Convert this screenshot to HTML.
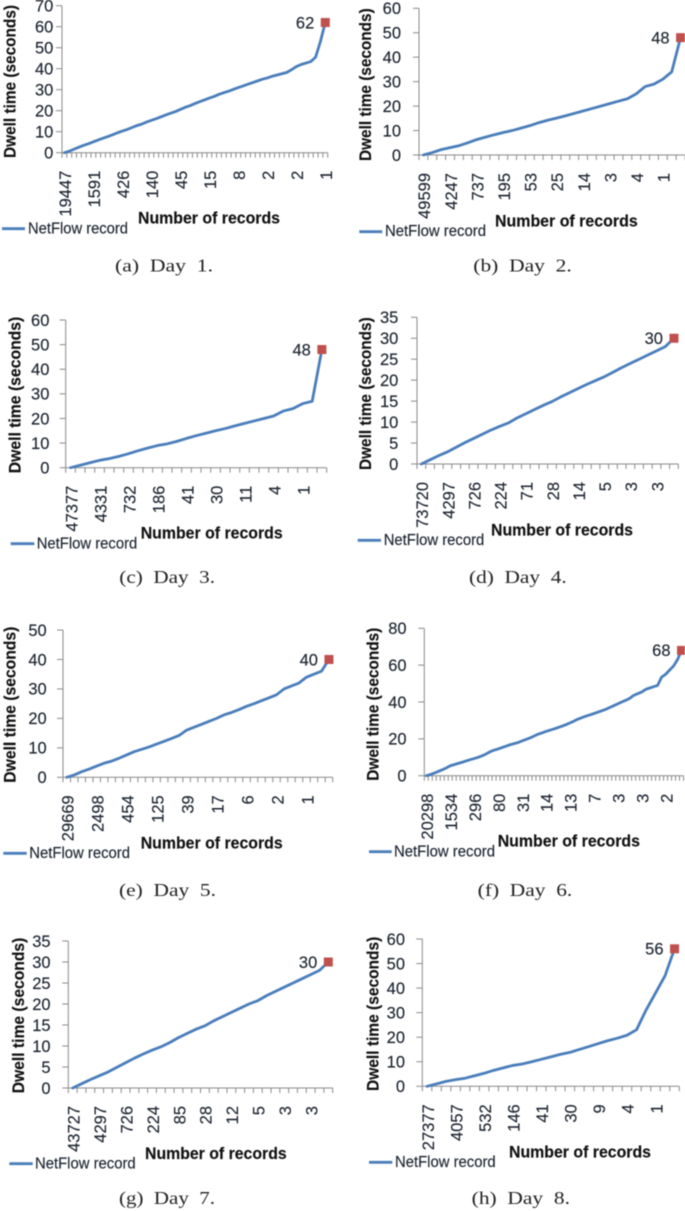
<!DOCTYPE html>
<html lang="en">
<head>
<meta charset="utf-8">
<title>Dwell time per day</title>
<style>
html,body{margin:0;padding:0;background:#fff;}
body{width:685px;height:1211px;overflow:hidden;}
svg{display:block;filter:blur(0.4px);}
text{font-family:"Liberation Sans",sans-serif;fill:#1c2430;stroke:#1c2430;stroke-width:0.15px;}
.cap{font-family:"Liberation Serif",serif;fill:#222;stroke:none;white-space:pre;}
</style>
</head>
<body>
<svg id="figure" xmlns="http://www.w3.org/2000/svg" width="685" height="1211" viewBox="0 0 685 1211"></svg>
<script>
// ---- data ----
const dayNames = ["Day 1", "Day 2", "Day 3", "Day 4", "Day 5", "Day 6", "Day 7", "Day 8"];
const seriesName = "NetFlow record";

const yTicksA = [0,10,20,30,40,50,60,70];
const labelsA = ["19447","1591","426","140","45","15","8","2","2","1"];
const valuesA = [0,0.7,1.7,2.6,3.5,4.3,5.2,6.1,6.9,7.7,8.6,9.5,10.3,11.1,12,12.9,13.6,14.6,15.4,16.2,17.1,18,18.8,19.6,20.6,21.6,22.4,23.4,24.3,25.1,26,26.8,27.8,28.6,29.3,30.2,31,31.8,32.6,33.4,34.2,35,35.6,36.4,37,37.6,38.2,39.5,41,42,42.7,43.4,45.5,53,62];

const yTicksB = [0,10,20,30,40,50,60];
const labelsB = ["49599","4247","737","195","53","25","14","3","4","1"];
const valuesB = [0,1,2.2,3,3.8,5,6.3,7.3,8.3,9.2,10,11,12,13.2,14.2,15.1,16,17,18,19,20,21,22,23,25,28,29,31,34,48];

const yTicksC = [0,10,20,30,40,50,60];
const labelsC = ["47377","4331","732","186","41","30","11","4","1"];
const valuesC = [0,1,2,3,3.7,4.6,5.7,6.9,8,9,9.7,10.7,11.9,13,14,15,15.9,17,18,19,20,21,23,24,26,27,48];

const yTicksD = [0,5,10,15,20,25,30,35];
const labelsD = ["73720","4297","726","224","71","28","14","5","3","3"];
const valuesD = [0,1,2,2.9,4,5.1,6.1,7.1,8.1,9,9.8,11,12,13,14,14.9,16,17,18,19,19.9,20.8,21.9,23,24,25,26,27,28,30];

const yTicksE = [0,10,20,30,40,50];
const labelsE = ["29669","2498","454","125","39","17","6","2","1"];
const valuesE = [0,0.8,1.9,2.8,3.8,4.8,5.5,6.5,7.6,8.7,9.5,10.3,11.3,12.2,13.2,14.2,16,17,18,19,20,21.2,22,23,24.1,25,26,27,28,30,31,32,34,35,36,40];

const yTicksF = [0,20,40,60,80];
const labelsF = ["20298","1534","296","80","31","14","13","7","3","3","2"];
const valuesF = [0,0.6,1.4,2.3,3.2,4.2,5.4,6,6.7,7.3,8,8.7,9.3,10,10.8,11.8,13,13.9,14.5,15.3,16,16.8,17.4,18,18.9,19.7,20.5,21.5,22.5,23.2,24,24.7,25.4,26.1,26.9,27.7,28.6,29.6,30.7,31.5,32.3,33,33.7,34.5,35.2,36,37,38,39,40,40.9,42,43.6,44.5,45.4,46.8,47.6,48.3,49,53.5,55,57.3,59.5,63,68];

const yTicksG = [0,5,10,15,20,25,30,35];
const labelsG = ["43727","4297","726","224","85","28","12","5","3","3"];
const valuesG = [0,1,2,2.9,3.8,4.9,6,7.1,8.1,9,9.8,10.8,12,13,14,14.8,16,17,18,19,20,20.8,22,23,24,25,26,27,28,30];

const yTicksH = [0,10,20,30,40,50,60];
const labelsH = ["27377","4057","532","146","41","30","9","4","1"];
const valuesH = [0,1,2,2.7,3.3,4.3,5.3,6.5,7.5,8.5,9.1,10,11,12,13,13.8,15,16.2,17.4,18.6,19.6,20.8,23,31,38,45,56];

// ---- data bundles for each panel (layout lives in layoutFor below) ----
const panelData = [
  {letter:"a", ticks:yTicksA, labels:labelsA, values:valuesA},
  {letter:"b", ticks:yTicksB, labels:labelsB, values:valuesB},
  {letter:"c", ticks:yTicksC, labels:labelsC, values:valuesC},
  {letter:"d", ticks:yTicksD, labels:labelsD, values:valuesD},
  {letter:"e", ticks:yTicksE, labels:labelsE, values:valuesE},
  {letter:"f", ticks:yTicksF, labels:labelsF, values:valuesF},
  {letter:"g", ticks:yTicksG, labels:labelsG, values:valuesG},
  {letter:"h", ticks:yTicksH, labels:labelsH, values:valuesH}
];

function layoutFor(letter){
  switch(letter){
    case "a": return {l:62,r:327.7,b:152.7,t:5.7,step:6,gap:8.7,
      xt:[138,142,223.3],yt:[15.3,158,153],lg:[2,25,228.7,28,100,233.3],cap:[115,98,271.7]};
    case "b": return {l:419,r:685,b:155,t:8.3,step:3,gap:18,
      xt:[495,142.7,226.7],yt:[371,161,152.7],lg:[359.3,382.3,231.7,385,101,236],cap:[473.3,98.4,271.7]};
    case "c": return {l:65.7,r:326.7,b:467.7,t:320,step:3,gap:16.3,
      xt:[140.7,142,538.3],yt:[20.7,473.3,156.6],lg:[10.7,34.3,543.7,36.7,100.6,548.3],cap:[119.3,95.7,583]};
    case "d": return {l:417,r:678.3,b:464,t:317.3,step:3,gap:18.7,
      xt:[491,142,535.3],yt:[371,470,152.7],lg:[357.7,381,540.3,383.7,100.6,545],cap:[469,97.7,583]};
    case "e": return {l:63,r:332.7,b:777.3,t:630,step:4,gap:16.3,
      xt:[140.7,142,848.3],yt:[15.7,782.7,156],lg:[3.3,26.7,853.3,29.3,100.7,858],cap:[119,97,896]};
    case "f": return {l:424.3,r:683.5,b:775.7,t:628.3,step:6,gap:17.7,
      xt:[497.7,142.3,846.7],yt:[378.3,780.7,153],lg:[369,391.7,851.7,394,101,856.3],cap:[477.7,94.6,896]};
    case "g": return {l:68.3,r:332.7,b:1088,t:941,step:3,gap:17.7,
      xt:[145,141.7,1159],yt:[24,1093.3,155.6],lg:[9.3,32.7,1163.7,35,100.7,1168.3],cap:[119,96,1204]};
    default: return {l:422.3,r:679.3,b:1086.3,t:939,step:3,gap:17.3,
      xt:[509,142,1157.3],yt:[378.3,1091,154.3],lg:[369,392.3,1162.3,395,100.7,1167],cap:[471.7,98.3,1204]};
  }
}

const SVG_NS = "http://www.w3.org/2000/svg";
const root = document.getElementById("figure");

function node(tag, attrs, parent){
  const el = document.createElementNS(SVG_NS, tag);
  for (const k in attrs) el.setAttribute(k, attrs[k]);
  parent.appendChild(el);
  return el;
}

function drawPanel(d, idx){
  const L = layoutFor(d.letter);
  const n = d.values.length;
  const yMax = d.ticks[d.ticks.length - 1];
  const cw = (L.r - L.l) / n;
  const xAt = i => L.l + (i + 0.5) * cw;
  const yAt = v => L.b - (v / yMax) * (L.b - L.t);

  const g = node("g", {}, root);
  
  

  // y axis
  const yAxis = node("g", {stroke:"#8a8a8a", "stroke-width":"1", fill:"none"}, g);
  
  
  node("line", {x1:L.l, x2:L.l, y1:yAt(yMax), y2:L.b}, yAxis);
  d.ticks.forEach(t => {
    node("line", {x1:L.l - 6, x2:L.l, y1:yAt(t), y2:yAt(t)}, yAxis);
    const lab = node("text", {x:L.l - L.gap, y:yAt(t) + 5.8, "text-anchor":"end", "font-size":"16.5"}, g);
    
    
    lab.textContent = t;
  });

  // x axis
  const xAxis = node("g", {stroke:"#8a8a8a", "stroke-width":"1", fill:"none"}, g);
  
  
  node("line", {x1:L.l, x2:L.r, y1:L.b, y2:L.b}, xAxis);
  for (let i = 0; i <= n; i++){
    const tx = L.l + i * cw;
    node("line", {x1:tx, x2:tx, y1:L.b, y2:L.b + 5}, xAxis);
  }
  d.labels.forEach((s, k) => {
    const cx = xAt(k * L.step) + 1;
    const lab = node("text", {
      transform:"translate(" + (cx + 5.8) + "," + (L.b + 18) + ") rotate(-90)",
      "text-anchor":"end", "font-size":"16.5"
    }, g);
    
    
    lab.textContent = s;
  });

  // series line
  const pts = d.values.map((v, i) => xAt(i).toFixed(2) + "," + yAt(v).toFixed(2)).join(" ");
  const line = node("polyline", {points:pts, fill:"none", stroke:"#4a7ebb", "stroke-width":"2.8",
    "stroke-linejoin":"round", "stroke-linecap":"round"}, g);
  
  

  // final point marker and its value
  const last = n - 1;
  const lastVal = d.values[last];
  const marker = node("rect", {x:xAt(last) - 4.5, y:yAt(lastVal) - 4.5, width:"9", height:"9", fill:"#c0504d"}, g);
  
  
  const val = node("text", {x:xAt(last) - 11, y:yAt(lastVal) + 5.8, "text-anchor":"end", "font-size":"16.5"}, g);
  
  
  val.textContent = lastVal;

  // axis titles
  const xTitle = node("text", {x:L.xt[0], y:L.xt[2], textLength:L.xt[1], lengthAdjust:"spacingAndGlyphs",
    "font-size":"16.5", "font-weight":"bold", style:"fill:#111;stroke:#111"}, g);
  
  
  xTitle.textContent = "Number of records";

  const yTitle = node("text", {transform:"translate(" + L.yt[0] + "," + L.yt[1] + ") rotate(-90)",
    textLength:L.yt[2], lengthAdjust:"spacingAndGlyphs", "font-size":"16.5", "font-weight":"bold", style:"fill:#111;stroke:#111"}, g);
  
  
  yTitle.textContent = "Dwell time (seconds)";

  // legend
  const legend = node("g", {}, g);
  
  
  node("line", {x1:L.lg[0], x2:L.lg[1], y1:L.lg[2], y2:L.lg[2], stroke:"#4a7ebb", "stroke-width":"2.8"}, legend);
  const legText = node("text", {x:L.lg[3], y:L.lg[5], textLength:L.lg[4], lengthAdjust:"spacingAndGlyphs", "font-size":"16"}, legend);
  legText.textContent = seriesName;

  // caption
  const cap = node("text", {class:"cap", x:L.cap[0], y:L.cap[2], textLength:L.cap[1], lengthAdjust:"spacingAndGlyphs",
    "font-size":"18", "xml:space":"preserve"}, root);
  
  
  cap.textContent = "(" + d.letter + ")  " + dayNames[idx].replace(" ", "  ") + ".";
}

panelData.forEach(drawPanel);
</script>
</body>
</html>
